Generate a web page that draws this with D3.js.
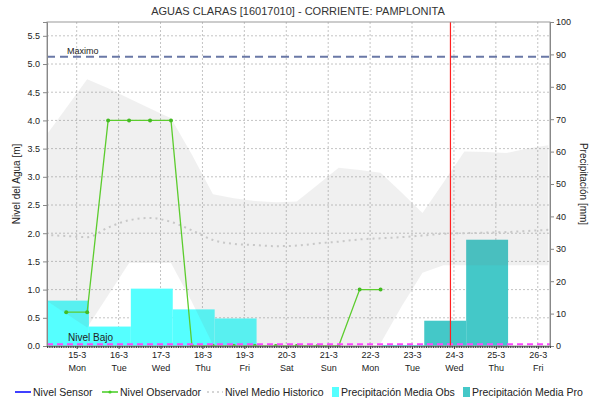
<!DOCTYPE html>
<html>
<head>
<meta charset="utf-8">
<script src="https://cdn.jsdelivr.net/npm/d3@7"></script>
<style>
  body { margin: 0; background: #fff; }
  svg { font-family: "Liberation Sans", Arial, sans-serif; }
</style>
</head>
<body>
<div id="chart"></div>
<script>
// ---- data ----
const titleText = "AGUAS CLARAS [16017010] - CORRIENTE: PAMPLONITA";

// observer readings (06:00 / 18:00)
const obsTimes = ["2021-03-14T18:00", "2021-03-15T06:00", "2021-03-15T18:00", "2021-03-16T06:00",
    "2021-03-16T18:00", "2021-03-17T06:00", "2021-03-17T18:00", "2021-03-18T06:00",
    "2021-03-18T18:00", "2021-03-19T06:00", "2021-03-19T18:00", "2021-03-20T06:00",
    "2021-03-20T18:00", "2021-03-21T06:00", "2021-03-21T18:00", "2021-03-22T06:00"];
const obsLevel = [0.6, 0.6, 4.0, 4.0, 4.0, 4.0, 0, 0, 0, 0, 0, 0, 0, 0, 1.0, 1.0];

// historic band + median (every 12h from 14-3 06:00)
const histTimes = ["2021-03-14T06:00", "2021-03-14T18:00", "2021-03-15T06:00", "2021-03-15T18:00",
    "2021-03-16T06:00", "2021-03-16T18:00", "2021-03-17T06:00", "2021-03-17T18:00",
    "2021-03-18T06:00", "2021-03-18T18:00", "2021-03-19T06:00", "2021-03-19T18:00",
    "2021-03-20T06:00", "2021-03-20T18:00", "2021-03-21T06:00", "2021-03-21T18:00",
    "2021-03-22T06:00", "2021-03-22T18:00", "2021-03-23T06:00", "2021-03-23T18:00",
    "2021-03-24T06:00", "2021-03-24T18:00", "2021-03-25T06:00", "2021-03-25T18:00",
    "2021-03-26T06:00"];
const histMax = [3.71, 4.22, 4.73, 4.57, 4.39, 4.21, 4.04, 3.39, 2.69, 2.62, 2.57, 2.55,
    2.56, 2.86, 3.16, 3.12, 3.07, 2.72, 2.36, 2.9, 3.45, 3.44, 3.42, 3.5, 3.56];
const histMin = [0.82, 0.57, 0.33, 0.9, 1.47, 1.47, 1.47, 0.78, 0.02, 0, 0, 0,
    0, 0, 0, 0, 0.05, 0.7, 1.3, 1.43, 1.43, 1.43, 1.43, 1.43, 1.43];
const histMedian = [1.97, 1.95, 1.93, 2.1, 2.23, 2.27, 2.2, 2.05, 1.88, 1.81, 1.79, 1.77,
    1.78, 1.82, 1.85, 1.89, 1.91, 1.93, 1.96, 1.99, 2.0, 2.01, 2.02, 2.04, 2.06];

// daily precipitation (07:00 to 07:00), mm
const precObsDays = ["2021-03-14", "2021-03-15", "2021-03-16", "2021-03-17", "2021-03-18",
    "2021-03-19", "2021-03-20", "2021-03-21", "2021-03-22"];
const precObs = [14, 6, 17.7, 11.3, 8.5, 0, 0, 0, 0.3];
const precProDays = ["2021-03-23", "2021-03-24"];
const precPro = [7.8, 32.8];

const nivelMaximo = 5.13;
const nivelBajo = 0.03;
const nowTime = "2021-03-23T22:00";

const levelTicks = [0, 0.5, 1, 1.5, 2, 2.5, 3, 3.5, 4, 4.5, 5, 5.5];
const precTicks = [0, 10, 20, 30, 40, 50, 60, 70, 80, 90, 100];

const legendItems = [
    { label: "Nivel Sensor", type: "line", color: "#0000ff" },
    { label: "Nivel Observador", type: "dotline", color: "#44cc22" },
    { label: "Nivel Medio Historico", type: "dotted", color: "#c8c8c8" },
    { label: "Precipitación Media Obs", type: "box", color: "#55ffff" },
    { label: "Precipitación Media Pro", type: "box", color: "#44c8c8" }
];

// ---- drawing ----
const W = 590, H = 405;
const margin = { top: 22, right: 40, bottom: 59, left: 47 };
const width = W - margin.left - margin.right;
const height = H - margin.top - margin.bottom;

const parse = d3.isoParse;
const dayStart = s => d3.timeHour.offset(parse(s + "T00:00"), 7);

const svg = d3.select("#chart").append("svg")
    .attr("width", W)
    .attr("height", H);

svg.append("text")
    .attr("x", W / 2 + 3)
    .attr("y", 15)
    .attr("text-anchor", "middle")
    .attr("font-size", 11)
    .attr("fill", "#333")
    .text(titleText);

const g = svg.append("g").attr("transform", `translate(${margin.left},${margin.top})`);

g.append("clipPath").attr("id", "clip")
    .append("rect").attr("width", width).attr("height", height);

const x = d3.scaleTime()
    .domain([parse("2021-03-14T07:00"), parse("2021-03-26T07:00")])
    .range([0, width]);
const yL = d3.scaleLinear().domain([0, 5.745]).range([height, 0]);
const yR = d3.scaleLinear().domain([0, 100]).range([height, 0]);

const dayTicks = d3.timeDay.range(parse("2021-03-15T00:00"), parse("2021-03-26T12:00"));

// grid
g.append("g").selectAll("line").data(levelTicks.filter(d => d > 0))
    .join("line")
    .attr("x1", 0).attr("x2", width)
    .attr("y1", d => yL(d)).attr("y2", d => yL(d))
    .attr("stroke", "#c4c4c4").attr("stroke-dasharray", "2,2");
g.append("g").selectAll("line").data(dayTicks)
    .join("line")
    .attr("x1", d => x(d)).attr("x2", d => x(d))
    .attr("y1", 0).attr("y2", height)
    .attr("stroke", "#c4c4c4").attr("stroke-dasharray", "2,2");

const plot = g.append("g").attr("clip-path", "url(#clip)");

// precipitation bars
plot.selectAll(".obsbar").data(precObsDays.map((d, i) => ({ t: dayStart(d), v: precObs[i] })))
    .join("rect").attr("class", "obsbar")
    .attr("x", d => x(d.t))
    .attr("width", d => x(d3.timeDay.offset(d.t, 1)) - x(d.t))
    .attr("y", d => yR(d.v))
    .attr("height", d => height - yR(d.v))
    .attr("fill", "#55ffff");

plot.selectAll(".probar").data(precProDays.map((d, i) => ({ t: dayStart(d), v: precPro[i] })))
    .join("rect").attr("class", "probar")
    .attr("x", d => x(d.t))
    .attr("width", d => x(d3.timeDay.offset(d.t, 1)) - x(d.t))
    .attr("y", d => yR(d.v))
    .attr("height", d => height - yR(d.v))
    .attr("fill", "#44c8c8");

// historic band
const hist = histTimes.map((t, i) => ({ t: parse(t), lo: histMin[i], hi: histMax[i], med: histMedian[i] }));
plot.append("path").datum(hist)
    .attr("d", d3.area().x(d => x(d.t)).y0(d => yL(d.lo)).y1(d => yL(d.hi)))
    .attr("fill", "rgba(120,120,120,0.11)");

plot.append("path").datum(hist)
    .attr("d", d3.line().curve(d3.curveMonotoneX).x(d => x(d.t)).y(d => yL(d.med)))
    .attr("fill", "none")
    .attr("stroke", "#c8c8c8")
    .attr("stroke-width", 2)
    .attr("stroke-dasharray", "2,4");

// reference levels
plot.append("line")
    .attr("x1", 0).attr("x2", width)
    .attr("y1", yL(nivelMaximo)).attr("y2", yL(nivelMaximo))
    .attr("stroke", "#6a78a6").attr("stroke-width", 2).attr("stroke-dasharray", "8,5");
g.append("text").attr("x", 20).attr("y", yL(nivelMaximo) - 3)
    .attr("font-size", 9).attr("fill", "#222").text("Maximo");

// observer line
const obs = obsTimes.map((t, i) => ({ t: parse(t), v: obsLevel[i] }));
plot.append("path").datum(obs)
    .attr("d", d3.line().x(d => x(d.t)).y(d => yL(d.v)))
    .attr("fill", "none")
    .attr("stroke", "#5ccc2e")
    .attr("stroke-width", 1.3);
plot.selectAll(".obsdot").data(obs)
    .join("circle").attr("class", "obsdot")
    .attr("cx", d => x(d.t)).attr("cy", d => yL(d.v))
    .attr("r", 2)
    .attr("fill", "#44bb22");

plot.append("line")
    .attr("x1", 0).attr("x2", width)
    .attr("y1", yL(nivelBajo)).attr("y2", yL(nivelBajo))
    .attr("stroke", "#ff44ff").attr("stroke-width", 2).attr("stroke-dasharray", "6,4");
g.append("text").attr("x", 21).attr("y", yL(nivelBajo) - 3)
    .attr("font-size", 10).attr("fill", "#222").text("Nivel Bajo");

// now line
plot.append("line")
    .attr("x1", x(parse(nowTime))).attr("x2", x(parse(nowTime)))
    .attr("y1", 0).attr("y2", height)
    .attr("stroke", "#ff2020").attr("stroke-width", 1.2);

// plot outline
g.append("rect").attr("width", width).attr("height", height)
    .attr("fill", "none").attr("stroke", "#999").attr("stroke-width", 1);

// axes
const axL = g.append("g")
    .call(d3.axisLeft(yL).tickValues(levelTicks).tickFormat(d3.format(".1f")).tickSize(4).tickPadding(3));
const axR = g.append("g").attr("transform", `translate(${width},0)`)
    .call(d3.axisRight(yR).tickValues(precTicks).tickSize(4).tickPadding(2));
[axL, axR].forEach(a => {
    a.select(".domain").attr("stroke", "#888");
    a.selectAll(".tick line").attr("stroke", "#888");
    a.selectAll("text").attr("font-size", 9).attr("fill", "#222")
        .attr("font-family", "Liberation Sans, Arial, sans-serif");
});

// hourly minor ticks along the time axis
const axMinor = g.append("g").attr("transform", `translate(0,${height})`)
    .call(d3.axisBottom(x).ticks(d3.timeHour.every(1)).tickSize(2).tickFormat(""));
axMinor.select(".domain").attr("stroke", "#888");
axMinor.selectAll(".tick line").attr("stroke", "#444");

const axB = g.append("g").attr("transform", `translate(0,${height})`)
    .call(d3.axisBottom(x).tickValues(dayTicks).tickSize(3).tickFormat(d3.timeFormat("%-d-%-m")).tickPadding(3));
axB.select(".domain").remove();
axB.selectAll(".tick line").attr("stroke", "#444");
axB.selectAll("text").attr("font-size", 9).attr("fill", "#222")
    .attr("font-family", "Liberation Sans, Arial, sans-serif");
axB.selectAll(".tick").append("text")
    .attr("y", 19).attr("dy", "0.71em")
    .attr("text-anchor", "middle")
    .attr("font-size", 9).attr("fill", "#222")
    .attr("font-family", "Liberation Sans, Arial, sans-serif")
    .text(d => d3.timeFormat("%a")(d));

// axis titles
svg.append("text")
    .attr("transform", `translate(20,${margin.top + height / 2}) rotate(-90)`)
    .attr("text-anchor", "middle").attr("font-size", 10).attr("fill", "#222")
    .text("Nivel del Agua [m]");
svg.append("text")
    .attr("transform", `translate(580,${margin.top + height / 2}) rotate(90)`)
    .attr("text-anchor", "middle").attr("font-size", 10).attr("fill", "#222")
    .text("Precipitación [mm]");

// legend
const legendX = [15, 102, 207, 332, 463];
const leg = svg.append("g").attr("transform", "translate(0,392)");
legendItems.forEach((it, i) => {
    const lg = leg.append("g").attr("transform", `translate(${legendX[i]},0)`);
    let tx;
    if (it.type === "box") {
        lg.append("rect").attr("x", 0).attr("y", -5).attr("width", 7).attr("height", 10).attr("fill", it.color);
        tx = 9;
    } else {
        lg.append("line").attr("x1", 0).attr("x2", 16).attr("y1", 0).attr("y2", 0)
            .attr("stroke", it.color).attr("stroke-width", 1.5)
            .attr("stroke-dasharray", it.type === "dotted" ? "2,3" : null);
        if (it.type === "dotline") {
            lg.append("circle").attr("cx", 8).attr("cy", 0).attr("r", 1.6).attr("fill", it.color);
        }
        tx = 18;
    }
    lg.append("text").attr("x", tx).attr("y", 4).attr("font-size", 10.5).attr("fill", "#222").text(it.label);
});
</script>
</body>
</html>
